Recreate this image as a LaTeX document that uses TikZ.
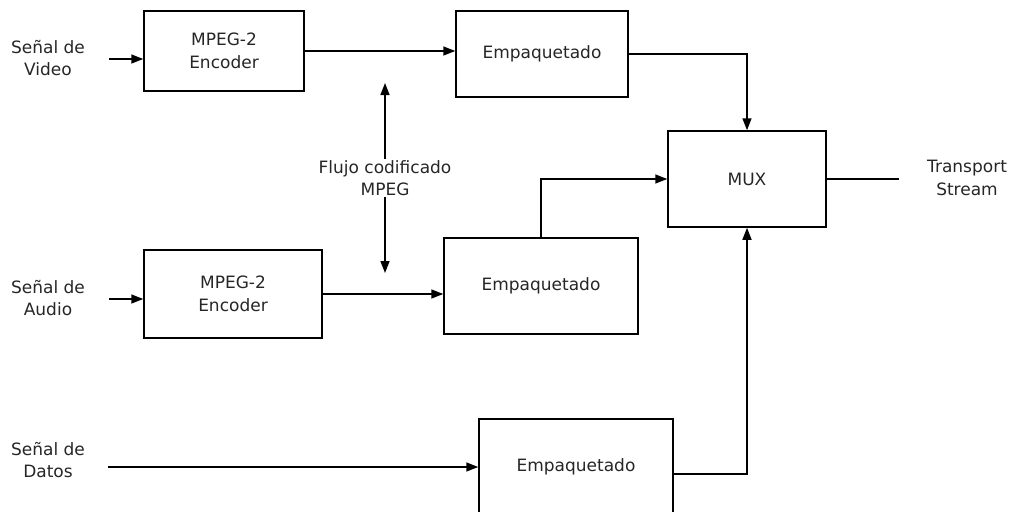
\documentclass[tikz,border=0pt]{standalone}
\usepackage{fontspec}
\setmainfont{DejaVu Sans}
\usetikzlibrary{arrows.meta}
\begin{document}
\begin{tikzpicture}[x=1pt,y=-1pt,
  every node/.style={font=\fontsize{17}{22.5}\selectfont, text=black!85},
  blk/.style={draw, line width=1.5pt, inner sep=0pt, align=center},
  lbl/.style={align=center, inner sep=1pt},
  conn/.style={line width=1.5pt},
  arr/.style={conn, -{Triangle[length=12pt,width=9pt]}}]
\useasboundingbox (0,0) rectangle (1019,511);
\clip (0,0) rectangle (1019,511);

% processing blocks
\node[blk, minimum width=160pt, minimum height=80pt] (enc1) at (224,51) {MPEG-2\\Encoder};
\node[blk, minimum width=178pt, minimum height=88pt] (enc2) at (233,294) {MPEG-2\\Encoder};
\node[blk, minimum width=172pt, minimum height=86pt] (emp1) at (542,54) {Empaquetado};
\node[blk, minimum width=194pt, minimum height=96pt] (emp2) at (541,286) {Empaquetado};
\node[blk, minimum width=194pt, minimum height=96pt] (emp3) at (576,467) {Empaquetado};
\node[blk, minimum width=158pt, minimum height=96pt] (mux) at (747,179) {MUX};

% signal labels
\node[lbl] (video) at (48,58) {Señal de\\Video};
\node[lbl] (audio) at (48,298) {Señal de\\Audio};
\node[lbl] (datos) at (48,460) {Señal de\\Datos};
\node[lbl] (ts) at (967,178) {Transport\\Stream};
\node[lbl] (flujo) at (385,178) {Flujo codificado\\MPEG};

% free ends
\coordinate (vin) at (109,59);
\coordinate (ain) at (109,299);
\coordinate (din) at (108,467);
\coordinate (tsout) at (899,179);
\coordinate (fup) at (385,83);
\coordinate (fdown) at (385,273);

% connectors
\draw[arr] (vin) -- (vin -| enc1.west);
\draw[arr] (ain) -- (ain -| enc2.west);
\draw[arr] (din) -- (din -| emp3.west);
\draw[arr] (enc1.east) -- (enc1.east -| emp1.west);
\draw[arr] (enc2.east) -- (enc2.east -| emp2.west);
\draw[arr] (emp1.east) -| (mux.north);
\draw[arr] (emp2.north) |- (mux.west);
\draw[arr] ([yshift=-7pt]emp3.east) -| (mux.south);
\draw[conn] (mux.east) -- (tsout);
\draw[arr] (flujo.north) -- (fup);
\draw[arr] (flujo.south) -- (fdown);
\end{tikzpicture}
\end{document}
